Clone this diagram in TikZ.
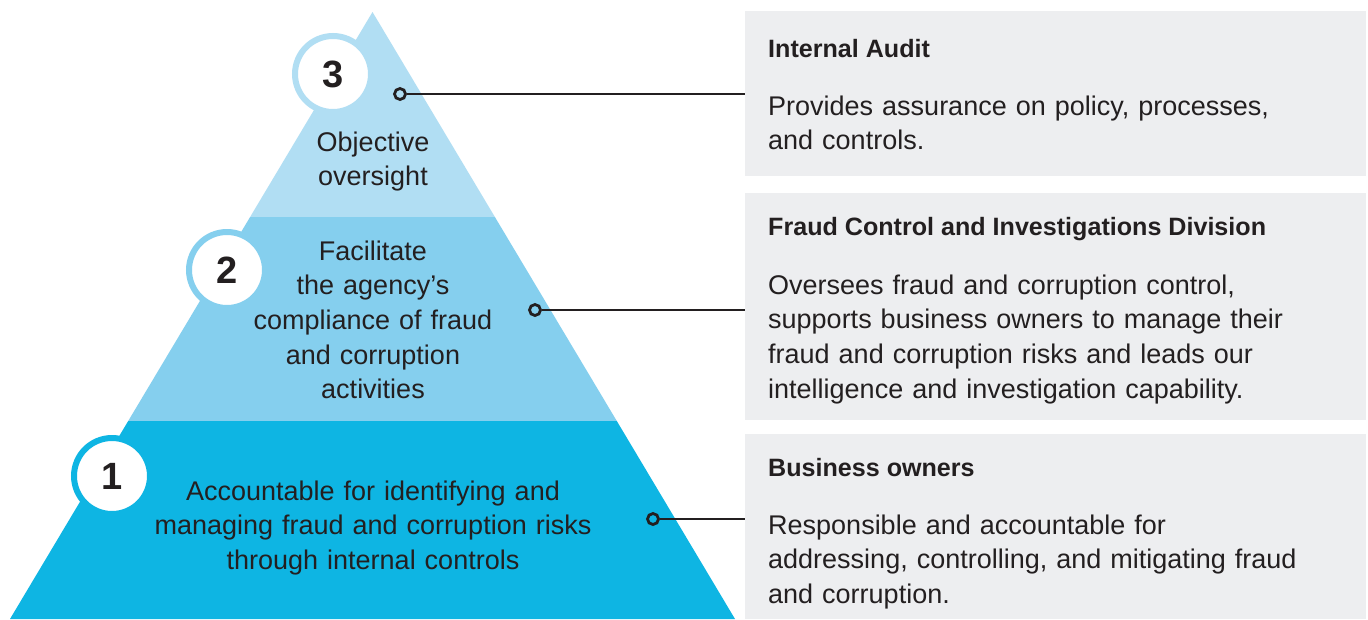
\documentclass[tikz,border=0pt]{standalone}
\usepackage{fontspec}
\setmainfont{Liberation Sans}
\definecolor{tierA}{HTML}{B1DEF3}
\definecolor{tierB}{HTML}{85CFEE}
\definecolor{tierC}{HTML}{0EB5E3}
\definecolor{boxgrey}{HTML}{EDEEF0}
\definecolor{ink}{HTML}{231F20}
\tikzset{
  bodytxt/.style={inner sep=0pt, text=ink, font=\fontsize{27}{34.7}\selectfont},
  titletxt/.style={inner sep=0pt, text=ink, font=\bfseries\fontsize{25.1}{34.7}\selectfont, anchor=base west},
  tiertxt/.style={bodytxt, anchor=base, text width=500pt, align=center},
  infobox/.style={fill=boxgrey, draw=none, inner sep=0pt, anchor=north west},
  numcircle/.style={circle, fill=white, line width=6pt, minimum size=76pt, inner sep=0pt, text=ink, font=\bfseries\fontsize{38}{42}\selectfont},
  dotend/.style={circle, draw=ink, line width=2.8pt, minimum size=11pt, inner sep=0pt},
  link/.style={draw=ink, line width=2.8pt}
}
\begin{document}
\begin{tikzpicture}[x=1pt,y=-1pt]
\useasboundingbox (0,0) rectangle (1368,619);
\fill[white] (0,0) rectangle (1368,619);
% pyramid tiers
\coordinate (apex) at (372.5,12);
\coordinate (l1) at (250.1,217);
\coordinate (r1) at (494.9,217);
\coordinate (l2) at (128.2,421);
\coordinate (r2) at (616.8,421);
\coordinate (bl) at (10,619);
\coordinate (br) at (735,619);
\fill[tierA] (apex) -- (r1) -- (l1) -- cycle;
\fill[tierB] (l1) -- (r1) -- (r2) -- (l2) -- cycle;
\fill[tierC] (l2) -- (r2) -- (br) -- (bl) -- cycle;
% boxes
\node[infobox, minimum width=621pt, minimum height=165pt] (box3) at (745,11) {};
\node[infobox, minimum width=621pt, minimum height=227pt] (box2) at (745,193) {};
\node[infobox, minimum width=621pt, minimum height=185pt] (box1) at (745,434) {};
% tier texts
\node[tiertxt] (t3) at (373,151) {Objective\\oversight};
\node[tiertxt] (t2) at (373,260) {Facilitate\\the agency’s\\compliance of fraud\\and corruption\\activities};
\node[tiertxt] (t1) at (373,500) {Accountable for identifying and\\managing fraud and corruption risks\\through internal controls};
% number circles
\node[numcircle, draw=tierA] (n3) at (333,74) {3};
\node[numcircle, draw=tierB] (n2) at (227,270) {2};
\node[numcircle, draw=tierC] (n1) at (112,476) {1};
% connectors
\node[dotend] (d3) at (400,94) {};
\node[dotend] (d2) at (535,310) {};
\node[dotend] (d1) at (653,519) {};
\draw[link] (d3.east) -- (d3 -| box3.west);
\draw[link] (d2.east) -- (d2 -| box2.west);
\draw[link] (d1.east) -- (d1 -| box1.west);
% box texts
\node[titletxt] (h3) at (768,57.5) {Internal Audit};
\node[bodytxt, anchor=base west, text width=580pt, align=left] (b3) at (768,115) {Provides assurance on policy, processes,\\and controls.};
\node[titletxt] (h2) at (768,235.5) {Fraud Control and Investigations Division};
\node[bodytxt, anchor=base west, text width=580pt, align=left] (b2) at (768,294) {Oversees fraud and corruption control,\\supports business owners to manage their\\fraud and corruption risks and leads our\\intelligence and investigation capability.};
\node[titletxt] (h1) at (768,476.5) {Business owners};
\node[bodytxt, anchor=base west, text width=580pt, align=left] (b1) at (768,534) {Responsible and accountable for\\addressing, controlling, and mitigating fraud\\and corruption.};
\end{tikzpicture}
\end{document}
